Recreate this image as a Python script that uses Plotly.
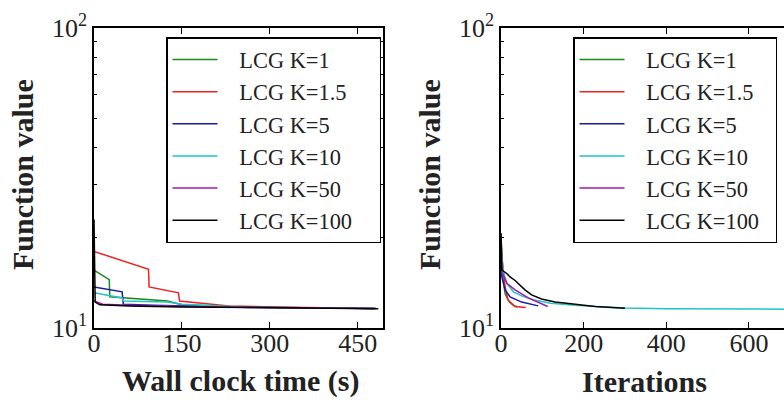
import plotly.graph_objects as go

# ---------------- data ----------------
series_names = ["LCG K=1", "LCG K=1.5", "LCG K=5", "LCG K=10", "LCG K=50", "LCG K=100"]
series_colors = ["#1a8a1a", "#ee2222", "#1a1aa8", "#22c4c4", "#a01aa8", "#000000"]

# left panel: wall clock time (s) vs function value
time_k1 = [0, 26, 27, 125, 150, 250, 480]
val_time_k1 = [15.6, 14.5, 12.7, 12.3, 11.95, 11.75, 11.62]
time_k15 = [0, 93, 94, 144, 146, 180, 230, 330, 480]
val_time_k15 = [18.0, 15.7, 13.7, 13.1, 12.3, 12.1, 11.85, 11.72, 11.62]
time_k5 = [0, 48, 50, 100, 250, 480]
val_time_k5 = [13.7, 13.2, 12.0, 11.9, 11.72, 11.62]
time_k10 = [0, 48, 50, 125, 150, 250, 480]
val_time_k10 = [13.1, 12.6, 12.3, 12.2, 12.0, 11.75, 11.62]
time_k50 = [0, 15, 60, 200, 480]
val_time_k50 = [12.3, 12.0, 11.9, 11.75, 11.62]
time_k100 = [0, 2, 10, 60, 150, 300, 485]
val_time_k100 = [23.0, 12.2, 11.95, 11.85, 11.75, 11.68, 11.6]

# right panel: iterations vs function value
iter_k1 = [0, 5, 10, 20, 30, 40]
val_iter_k1 = [20.0, 14.5, 13.0, 12.2, 11.9, 11.75]
iter_k15 = [0, 2, 10, 17, 34, 60]
val_iter_k15 = [20.7, 17.3, 13.7, 12.4, 11.8, 11.7]
iter_k5 = [0, 2, 10, 22, 50, 90]
val_iter_k5 = [20.0, 14.8, 13.4, 12.7, 12.2, 11.85]
iter_k10 = [0, 5, 15, 30, 50, 80, 120, 180, 250, 300, 400, 500, 600, 700]
val_iter_k10 = [19.0, 15.5, 14.0, 13.2, 12.8, 12.4, 12.1, 11.9, 11.75, 11.65, 11.6, 11.58, 11.56, 11.55]
iter_k50 = [0, 2, 14, 34, 66, 113]
val_iter_k50 = [20.0, 15.4, 14.1, 13.4, 12.6, 11.8]
iter_k100 = [0, 2, 14, 22, 34, 46, 58, 74, 98, 131, 179, 228, 300]
val_iter_k100 = [20.7, 15.6, 15.2, 14.8, 14.4, 13.9, 13.4, 12.9, 12.5, 12.2, 12.0, 11.8, 11.63]

x_left_ticks = [0, 150, 300, 450]
x_right_ticks = [0, 200, 400, 600]
y_major_ticks = [10, 100]
y_major_text = ["10<sup>1</sup>", "10<sup>2</sup>"]
y_minor_ticks = [20, 30, 40, 50, 60, 70, 80, 90]

left_x = [time_k1, time_k15, time_k5, time_k10, time_k50, time_k100]
left_y = [val_time_k1, val_time_k15, val_time_k5, val_time_k10, val_time_k50, val_time_k100]
right_x = [iter_k1, iter_k15, iter_k5, iter_k10, iter_k50, iter_k100]
right_y = [val_iter_k1, val_iter_k15, val_iter_k5, val_iter_k10, val_iter_k50, val_iter_k100]

# ---------------- figure ----------------
W, H = 784, 402
FONT = "Liberation Serif"
LPAD = "\u00a0" * 3

fig = go.Figure()
for i, name in enumerate(series_names):
    fig.add_trace(go.Scatter(x=left_x[i], y=left_y[i], mode="lines",
                             name=LPAD + name + "\u00a0" * 4,
                             line=dict(color=series_colors[i], width=1.5),
                             xaxis="x", yaxis="y", legend="legend"))
for i, name in enumerate(series_names):
    fig.add_trace(go.Scatter(x=right_x[i], y=right_y[i], mode="lines",
                             name=LPAD + name + "\u00a0" * 2,
                             line=dict(color=series_colors[i], width=1.5),
                             xaxis="x2", yaxis="y2", legend="legend2"))

def px_x(p):
    return p / W

def px_y(p):
    return 1 - p / H

ydom = [px_y(328), px_y(28)]

axis_common = dict(showgrid=False, zeroline=False, showline=True, linecolor="black",
                   linewidth=1.5, ticks="inside", tickcolor="black", tickwidth=1,
                   automargin=False,
                   tickfont=dict(family=FONT, size=26, color="#222"))

legend_common = dict(xanchor="left", yanchor="top", bgcolor="white",
                     bordercolor="black", borderwidth=1.5,
                     font=dict(family=FONT, size=22.4, color="#222"),
                     tracegroupgap=0, itemwidth=45)

fig.update_layout(
    width=W, height=H,
    margin=dict(l=0, r=0, t=0, b=0, autoexpand=False),
    paper_bgcolor="white", plot_bgcolor="white",
    font=dict(family=FONT, color="#222"),
    xaxis=dict(domain=[px_x(94), px_x(383)], range=[0, 493], tickvals=x_left_ticks,
               ticklen=6, mirror="ticks", anchor="y", ticklabelstandoff=-9, **axis_common),
    yaxis=dict(domain=ydom, type="log", range=[1, 2], tickvals=y_major_ticks,
               ticktext=y_major_text, ticklen=6, mirror="ticks", anchor="x",
               minor=dict(tickvals=y_minor_ticks, ticks="inside", ticklen=3,
                          tickcolor="black", tickwidth=1),
               **axis_common),
    xaxis2=dict(domain=[px_x(501), 1.0], range=[0, 685], tickvals=x_right_ticks,
                ticklen=6, mirror="ticks", anchor="y2", ticklabelstandoff=-9, **axis_common),
    yaxis2=dict(domain=ydom, type="log", range=[1, 2], tickvals=y_major_ticks,
                ticktext=y_major_text, ticklen=6, mirror=False, anchor="x2",
                minor=dict(tickvals=y_minor_ticks, ticks="inside", ticklen=3,
                           tickcolor="black", tickwidth=1),
                **axis_common),
    legend=dict(x=px_x(166), y=px_y(37), **legend_common),
    legend2=dict(x=px_x(573), y=px_y(37), **legend_common),
    showlegend=True,
)

title_font = dict(family=FONT, size=30, color="#222")
fig.add_annotation(text="<b>Wall clock time (s)</b>", xref="paper", yref="paper",
                   x=px_x(240), y=px_y(381), showarrow=False, font=title_font,
                   xanchor="center", yanchor="middle")
fig.add_annotation(text="<b>Iterations</b>", xref="paper", yref="paper",
                   x=px_x(644), y=px_y(381), showarrow=False, font=title_font,
                   xanchor="center", yanchor="middle")
fig.add_annotation(text="<b>Function value</b>", xref="paper", yref="paper",
                   x=px_x(23), y=px_y(175), showarrow=False, font=title_font,
                   textangle=-90, xanchor="center", yanchor="middle")
fig.add_annotation(text="<b>Function value</b>", xref="paper", yref="paper",
                   x=px_x(430), y=px_y(175), showarrow=False, font=title_font,
                   textangle=-90, xanchor="center", yanchor="middle")

fig.write_html("out.html", config={"displayModeBar": False},
               post_script="document.body.style.margin='0';document.body.style.overflow='hidden';")
